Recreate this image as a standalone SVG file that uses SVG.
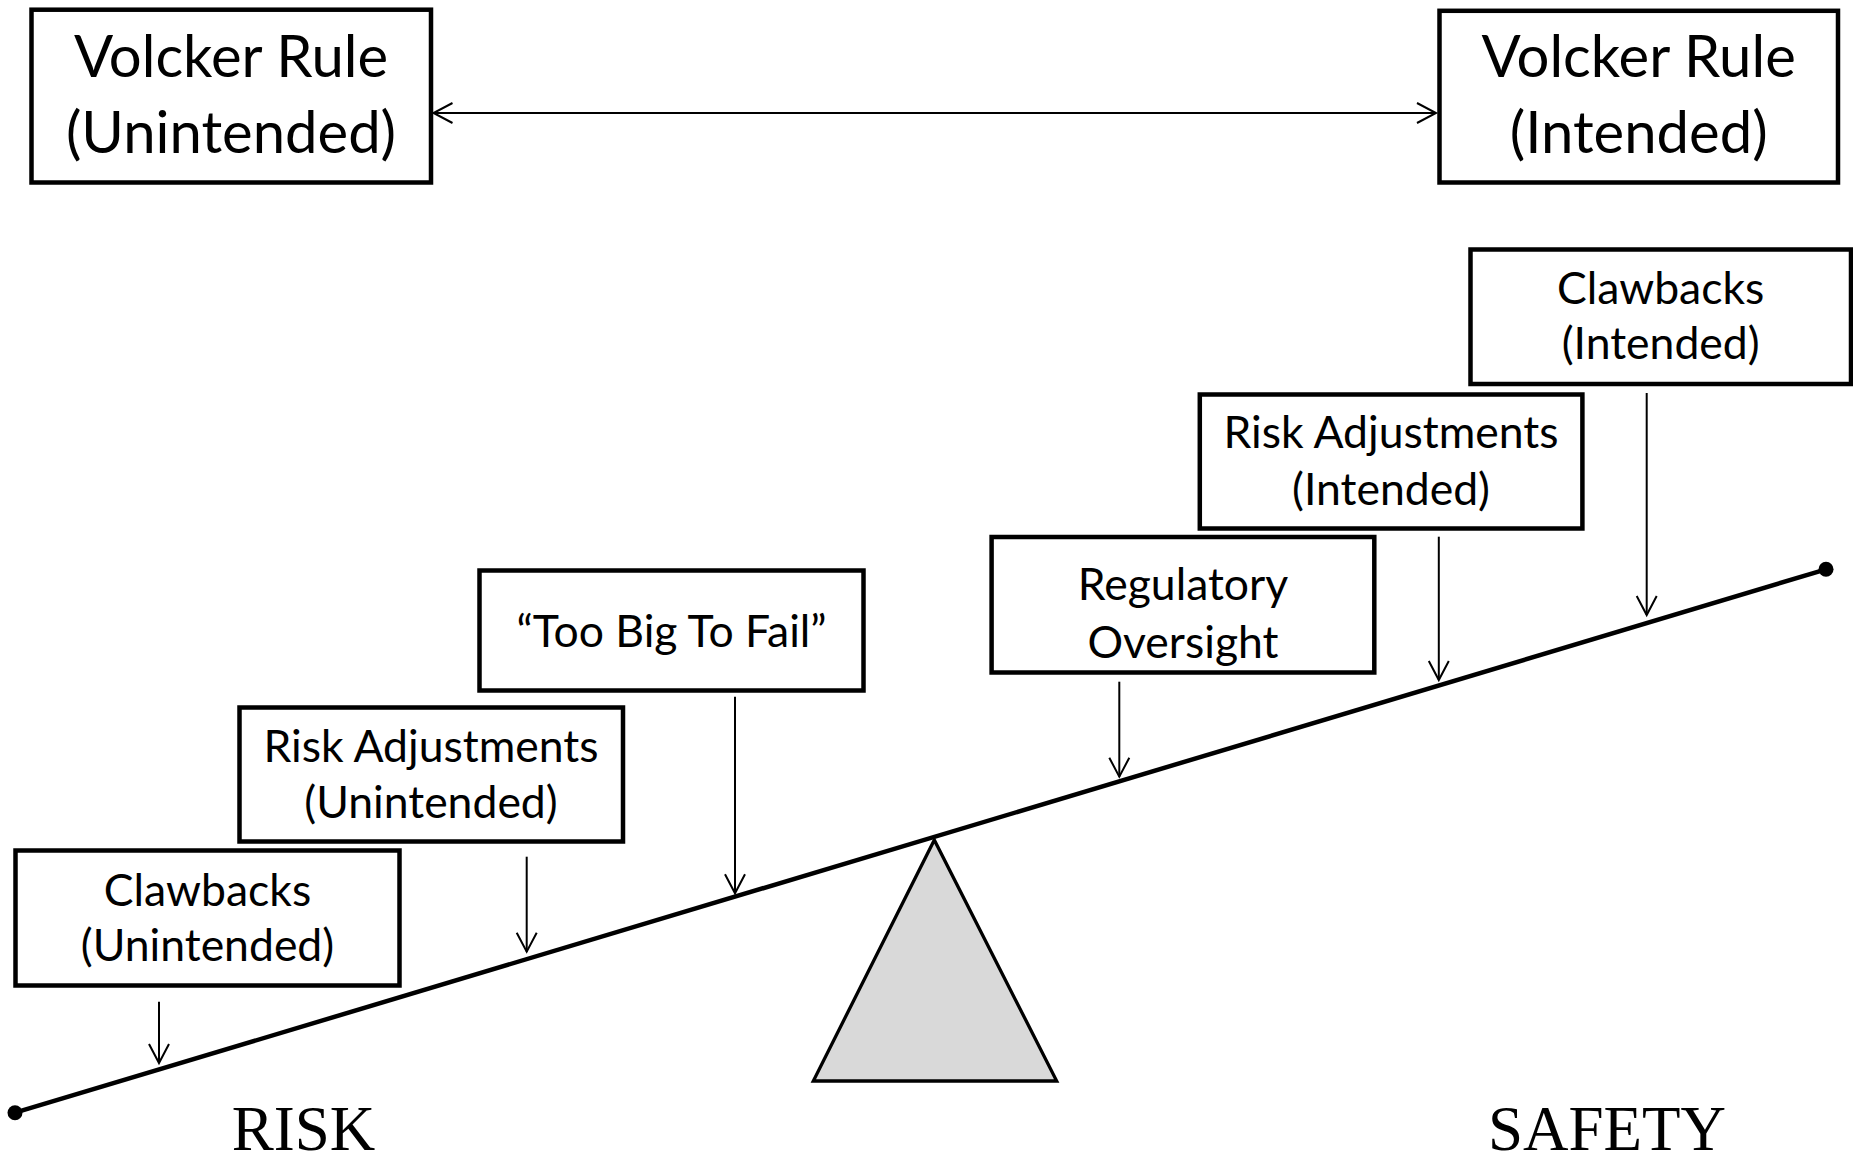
<svg xmlns="http://www.w3.org/2000/svg" width="1853" height="1161" viewBox="0 0 1853 1161">
<style>
.box{fill:#fff;stroke:#000;stroke-width:4.5}
.lbl{font-family:Lato,"Open Sans",sans-serif;fill:#000;text-anchor:middle}
.big{font-size:58px}
.sm{font-size:44.5px}
.arr{stroke:#000;stroke-width:2;fill:none}
.side{font-family:"Liberation Serif","Times New Roman",serif;font-size:63px;fill:#000}
</style>
<defs>
<marker id="ah" markerUnits="userSpaceOnUse" markerWidth="24" markerHeight="24" viewBox="0 0 24 24" refX="21" refY="12" orient="auto-start-reverse">
<path d="M2,2 L21,12 L2,22" fill="none" stroke="#000" stroke-width="2"/>
</marker>
</defs>
<rect width="1853" height="1161" fill="#fff"/>
<g id="fulcrum">
<polygon points="934.3,840 813.3,1081 1056.7,1081" fill="#d9d9d9" stroke="#000" stroke-width="3.3" stroke-linejoin="miter"/>
</g>
<g id="beam">
<line x1="15" y1="1112.7" x2="1826" y2="569.3" stroke="#000" stroke-width="4.5"/>
<circle cx="15" cy="1112.7" r="7.5" fill="#000"/>
<circle cx="1826" cy="569.3" r="7.5" fill="#000"/>
</g>
<g id="volcker-unintended">
<rect class="box" x="31.5" y="9.7" width="399.5" height="172.8"/>
<text class="lbl big" x="231" y="77">Volcker Rule</text>
<text class="lbl big" x="231" y="153">(Unintended)</text>
</g>
<g id="volcker-intended">
<rect class="box" x="1439.5" y="10.8" width="398.5" height="171.7"/>
<text class="lbl big" x="1638.7" y="77">Volcker Rule</text>
<text class="lbl big" x="1638.7" y="153">(Intended)</text>
</g>
<g id="clawbacks-intended">
<rect class="box" x="1470.5" y="249.5" width="380.5" height="134.5"/>
<text class="lbl sm" x="1660.7" y="304">Clawbacks</text>
<text class="lbl sm" x="1660.7" y="359">(Intended)</text>
</g>
<g id="risk-adjustments-intended">
<rect class="box" x="1199.8" y="394.5" width="382.6" height="134"/>
<text class="lbl sm" x="1391" y="448.3">Risk Adjustments</text>
<text class="lbl sm" x="1391" y="505">(Intended)</text>
</g>
<g id="regulatory-oversight">
<rect class="box" x="991.6" y="537" width="382.7" height="135.5"/>
<text class="lbl sm" x="1183" y="600">Regulatory</text>
<text class="lbl sm" x="1183" y="658.3">Oversight</text>
</g>
<g id="too-big-to-fail">
<rect class="box" x="479.5" y="570.5" width="384" height="120"/>
<text class="lbl sm" x="671.5" y="647.3">“Too Big To Fail”</text>
</g>
<g id="risk-adjustments-unintended">
<rect class="box" x="239.5" y="707.5" width="383.5" height="134"/>
<text class="lbl sm" x="431" y="761.7">Risk Adjustments</text>
<text class="lbl sm" x="431" y="818.3">(Unintended)</text>
</g>
<g id="clawbacks-unintended">
<rect class="box" x="15.5" y="850.5" width="384" height="135"/>
<text class="lbl sm" x="207.5" y="906">Clawbacks</text>
<text class="lbl sm" x="207.5" y="961">(Unintended)</text>
</g>
<g id="connectors">
<line class="arr" x1="433.5" y1="113" x2="1436" y2="113" marker-start="url(#ah)" marker-end="url(#ah)"/>
<line class="arr" x1="159" y1="1001.7" x2="159" y2="1063" marker-end="url(#ah)"/>
<line class="arr" x1="526.7" y1="856.7" x2="526.7" y2="951.7" marker-end="url(#ah)"/>
<line class="arr" x1="735" y1="696.7" x2="735" y2="893.3" marker-end="url(#ah)"/>
<line class="arr" x1="1119.3" y1="681.7" x2="1119.3" y2="776.7" marker-end="url(#ah)"/>
<line class="arr" x1="1438.8" y1="536.7" x2="1438.8" y2="680" marker-end="url(#ah)"/>
<line class="arr" x1="1646.7" y1="393" x2="1646.7" y2="615" marker-end="url(#ah)"/>
</g>
<text class="side" x="231.7" y="1150">RISK</text>
<text class="side" x="1488" y="1150">SAFETY</text>
</svg>
